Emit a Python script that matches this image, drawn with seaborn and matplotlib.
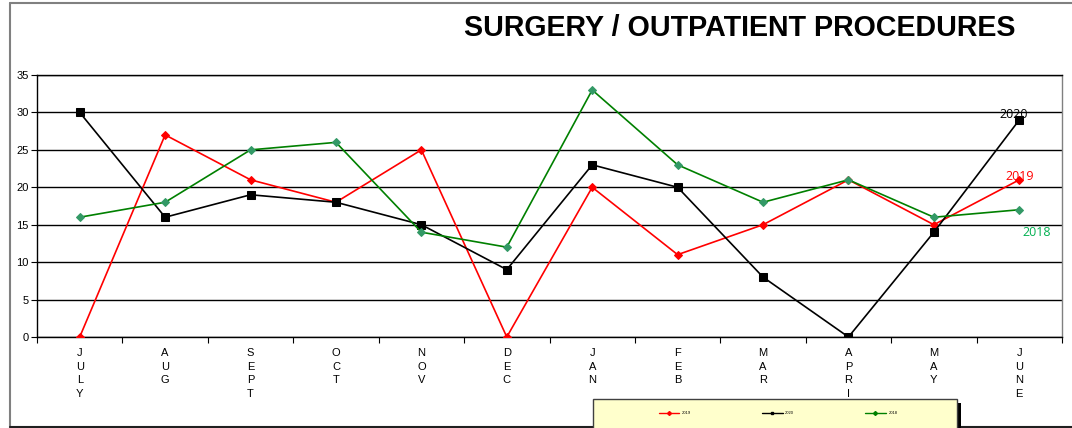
import numpy as np
import pandas as pd
import matplotlib
matplotlib.use('Agg')
import matplotlib.pyplot as plt
import seaborn as sns
from matplotlib.patches import Rectangle
from matplotlib.lines import Line2D

# data
months = ['JULY', 'AUG', 'SEPT', 'OCT', 'NOV', 'DEC', 'JAN', 'FEB', 'MAR', 'APRI', 'MAY', 'JUNE']
vals_2019 = [0, 27, 21, 18, 25, 0, 20, 11, 15, 21, 15, 21]
vals_2020 = [30, 16, 19, 18, 15, 9, 23, 20, 8, 0, 14, 29]
vals_2018 = [16, 18, 25, 26, 14, 12, 33, 23, 18, 21, 16, 17]
series = ['2019', '2020', '2018']
yticks = [0, 5, 10, 15, 20, 25, 30, 35]

rows = []
for name, vals in zip(series, [vals_2019, vals_2020, vals_2018]):
    for i, v in enumerate(vals):
        rows.append({'idx': i, 'month': months[i], 'year': name, 'count': v})
df = pd.DataFrame(rows)

sns.set_style('white')
plt.rcParams['font.family'] = ['Liberation Sans', 'DejaVu Sans']
plt.rcParams['text.color'] = 'black'
plt.rcParams['xtick.color'] = 'black'
plt.rcParams['ytick.color'] = 'black'

W, H = 1072, 428
fig = plt.figure(figsize=(W / 100, H / 100), dpi=100)
ax = fig.add_axes([37 / W, (H - 337) / H, (1062 - 37) / W, (337 - 75) / H])

line_col = {'2019': '#ff0000', '2020': '#000000', '2018': '#008000'}
mark_col = {'2019': '#ff0000', '2020': '#000000', '2018': '#339966'}
mark = {'2019': 'D', '2020': 's', '2018': 'D'}
msize = {'2019': 4, '2020': 5.2, '2018': 4.5}

for name in series:
    sub = df[df['year'] == name]
    sns.lineplot(data=sub, x='idx', y='count', ax=ax, color=line_col[name], lw=1.2,
                 marker=mark[name], markersize=msize[name], markerfacecolor=mark_col[name],
                 markeredgecolor=mark_col[name], sort=False, zorder=3, legend=False)

ax.set_xlim(-0.5, len(months) - 0.5)
ax.set_ylim(0, 35)
ax.set_yticks(yticks)
ax.set_yticklabels([str(t) for t in yticks], fontsize=8)
ax.yaxis.grid(True, color='black', lw=1)
ax.set_axisbelow(True)

# tick marks at category boundaries, labels stacked vertically at centres
ax.set_xticks(np.arange(-0.5, len(months), 1))
ax.set_xticklabels([])
ax.set_xticks(np.arange(len(months)), minor=True)
ax.set_xticklabels(['\n'.join(m) for m in months], minor=True, fontsize=8,
                   linespacing=1.45, va='top')
ax.tick_params(axis='x', which='major', direction='out', length=4, color='black', bottom=True)
ax.tick_params(axis='x', which='minor', length=0, pad=8)
ax.tick_params(axis='y', direction='out', length=4, color='black', left=True, pad=2)
ax.set_xlabel('')
ax.set_ylabel('')
for s in ax.spines.values():
    s.set_color('black')
    s.set_linewidth(1)
ax.spines['right'].set_color('#808080')

# end-of-line labels
lab_font = ['Open Sans', 'DejaVu Sans']
ax.text(10.94, 29.7, '2020', color='black', fontsize=9, ha='center', va='center', family=lab_font)
ax.text(11.0, 21.4, '2019', color='#ff0000', fontsize=9, ha='center', va='center', family=lab_font)
ax.text(11.2, 13.9, '2018', color='#00b050', fontsize=9, ha='center', va='center', family=lab_font)

fig.text(740 / W, 1 - 28 / H, 'SURGERY / OUTPATIENT PROCEDURES', fontsize=20.6,
         fontweight='bold', ha='center', va='center', color='black')

# outer chart frame
fig.add_artist(Line2D([10 / W, 10 / W], [0, 1 - 3 / H], transform=fig.transFigure,
                      color='#808080', lw=1.5))
fig.add_artist(Line2D([10 / W, 1], [1 - 3 / H, 1 - 3 / H], transform=fig.transFigure,
                      color='#808080', lw=1.5))
fig.add_artist(Line2D([10 / W, 1], [1.5 / H, 1.5 / H], transform=fig.transFigure,
                      color='#202020', lw=1.5))

# legend box with shadow
lx, ly, lw_, lh = 593 / W, -5 / H, (957 - 593) / W, (29 + 5) / H
fig.add_artist(Rectangle((lx + 4 / W, ly - 4 / H), lw_, lh, transform=fig.transFigure,
                         facecolor='black', edgecolor='none', zorder=5))
fig.add_artist(Rectangle((lx, ly), lw_, lh, transform=fig.transFigure,
                         facecolor='#ffffcc', edgecolor='#404040', lw=1, zorder=6))
handles = [Line2D([], [], color=line_col[n], marker=mark[n], markersize=2, lw=1)
           for n in series]
leg = fig.legend(handles, series, loc='center', bbox_to_anchor=(778 / W, 1 - 413 / H),
                 ncol=3, frameon=False, fontsize=3, handlelength=5, columnspacing=17,
                 handletextpad=0.6)
leg.set_zorder(7)

fig.savefig('out.png', dpi=100)
